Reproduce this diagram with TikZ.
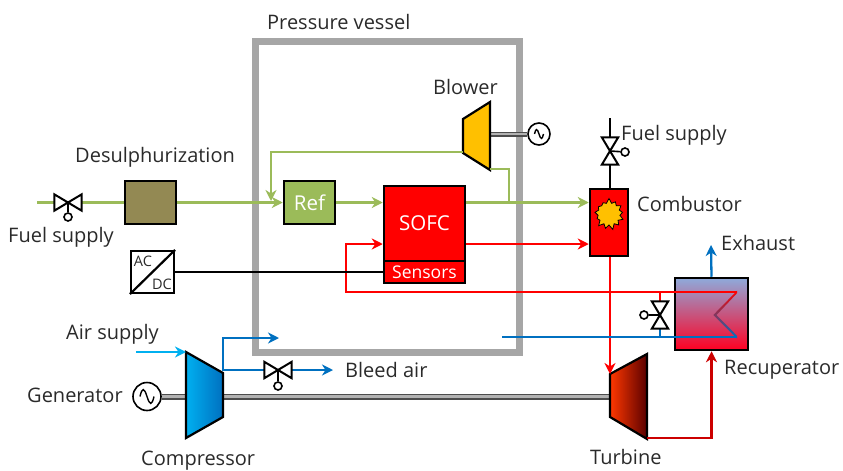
\documentclass[tikz,border=0pt]{standalone}
\usepackage{fontspec}
\setmainfont{Open Sans}
\usetikzlibrary{arrows.meta,shapes.symbols}
\definecolor{gasgreen}{HTML}{9BBB59}
\definecolor{airblue}{HTML}{0070C0}
\definecolor{skyblue}{HTML}{00B0F0}
\definecolor{desulph}{HTML}{938953}
\definecolor{blowergold}{HTML}{FFC000}
\definecolor{vesselgray}{HTML}{A6A6A6}
\definecolor{inkgray}{HTML}{2A2A2A}
\definecolor{recupblue}{HTML}{8EAADB}
\definecolor{recupmid}{HTML}{E57A9C}
\definecolor{recupred}{HTML}{FF0022}
\definecolor{turbhot}{HTML}{FF3800}
\definecolor{turbdark}{HTML}{5A0000}
\tikzset{
  lbl/.style={font=\fontsize{20}{23}\selectfont,text=inkgray,inner sep=0pt,anchor=base west},
  unit/.style={draw=black,line width=2.5pt,inner sep=0pt,text=white,font=\fontsize{20.5}{24}\selectfont},
  pipe/.style={line width=2.3pt},
  flow/.style={line width=2.3pt,-{Stealth[length=11pt,width=11pt,inset=3.5pt]}},
  valveh/.style={inner sep=0pt,minimum width=27pt,minimum height=16pt},
  valvev/.style={inner sep=0pt,minimum width=16pt,minimum height=27pt},
  knob/.style={circle,draw=black,line width=1.6pt,fill=white,inner sep=0pt,minimum size=8pt},
  ac/.style={circle,draw=black,line width=1.6pt,fill=white,inner sep=0pt},
  shaft/.style={draw=black!70,line width=1.3pt,double=black!30,double distance=#1},
  machine/.style={draw=black,line width=2.2pt,line join=miter},
}
\newcommand{\valveshapeh}[1]{\draw[line width=2pt,fill=white,line join=miter] (#1.north west) -- (#1.south east) -- (#1.north east) -- (#1.south west) -- cycle;}
\newcommand{\valveshapev}[1]{\draw[line width=2pt,fill=white,line join=miter] (#1.north west) -- (#1.south east) -- (#1.south west) -- (#1.north east) -- cycle;}
% wave inside a generator circle, #2 is half its width
\newcommand{\sinewave}[2]{\draw[line width=1.4pt] ([xshift=-#2]#1.center) .. controls +(0.3*#2,1.3*#2) and +(-0.4*#2,1.3*#2) .. (#1.center) .. controls +(0.4*#2,-1.3*#2) and +(-0.3*#2,-1.3*#2) .. ([xshift=#2]#1.center);}
\begin{document}
\begin{tikzpicture}[x=1pt,y=-1pt]
\useasboundingbox (0,0) rectangle (843,471);
  % pressure vessel
  \node[draw=vesselgray,line width=7pt,minimum width=264pt,minimum height=311.5pt,inner sep=0pt] (vessel) at (387.5,196.8) {};
  \node[lbl] (vesselLabel) at (267,29) {Pressure vessel};

  % units
  \node[unit,fill=desulph,minimum width=51pt,minimum height=43pt] (desulfur) at (150.5,202.5) {};
  \node[unit,fill=gasgreen,minimum width=51pt,minimum height=43pt] (ref) at (309.5,202.5) {Ref};
  \node[unit,fill=red,minimum width=81pt,minimum height=75pt] (sofc) at (424.5,223.5) {SOFC};
  \node[unit,fill=red,minimum width=81pt,minimum height=22pt,font=\fontsize{17.5}{20}\selectfont] (sensors) at (424.5,272) {Sensors};
  \node[unit,fill=red,minimum width=38pt,minimum height=67pt] (combustor) at (609,222.5) {};
  \node[starburst,draw=black,line width=0.8pt,fill=blowergold,starburst points=13,starburst point height=5pt,random starburst=7,inner sep=0pt,minimum width=32pt,minimum height=32pt] (flame) at (609,214) {};
  \node[draw=black,line width=2.2pt,minimum width=43pt,minimum height=42pt,inner sep=0pt] (acdc) at (152.5,272) {};
  \draw[line width=2.2pt] (acdc.south west) -- (acdc.north east);
  \node[font=\fontsize{14.5}{16}\selectfont,text=inkgray,inner sep=0pt] (acLabel) at (143,261) {AC};
  \node[font=\fontsize{14.5}{16}\selectfont,text=inkgray,inner sep=0pt] (dcLabel) at (162,284) {DC};
  \node[draw=black,line width=2.5pt,top color=recupblue,middle color=recupmid,bottom color=recupred,inner sep=0pt,minimum width=73pt,minimum height=72pt] (recup) at (711.5,314) {};

  % valves and generators
  \node[valveh] (valveFuel) at (68,202.5) {};
  \node[knob] (knobFuel) at (68,217) {};
  \node[valvev] (valveTop) at (610,151) {};
  \node[knob] (knobTop) at (625,152) {};
  \node[valvev] (valveRec) at (660,315) {};
  \node[knob] (knobRec) at (644,315) {};
  \node[valveh] (valveBleed) at (278,370) {};
  \node[knob] (knobBleed) at (278,386) {};
  \node[ac,minimum size=22pt] (genBlower) at (539,134) {};
  \node[ac,minimum size=28pt] (genMain) at (147,396.5) {};

  % machines
  \coordinate (blowerIn) at (463,152);
  \coordinate (blowerShaft) at (490,134);
  \coordinate (blowerOut) at (490,169);
  \coordinate (compIn) at (186,352);
  \coordinate (compShaftL) at (186,396.5);
  \coordinate (compShaftR) at (223,396.5);
  \coordinate (compOut) at (223,371);
  \coordinate (turbIn) at (610,374);
  \coordinate (turbShaft) at (610,396.5);
  \coordinate (turbOut) at (647,438);

  \draw[shaft=2.4pt] (blowerShaft) -- (genBlower.west);
  \draw[shaft=3.4pt] (genMain.east) -- (compShaftL);
  \draw[shaft=3.4pt] (compShaftR) -- (turbShaft);

  \filldraw[machine,fill=blowergold] (463,119) -- (490,102) -- (490,170) -- (463,153) -- cycle;
  \shade[left color=skyblue,right color=airblue] (186,352) -- (223,373) -- (223,417) -- (186,438) -- cycle;
  \draw[machine] (186,352) -- (223,373) -- (223,417) -- (186,438) -- cycle;
  \shade[left color=turbhot,right color=turbdark] (610,374) -- (647,354) -- (647,439) -- (610,417) -- cycle;
  \draw[machine] (610,374) -- (647,354) -- (647,439) -- (610,417) -- cycle;

  % fuel gas lines
  \coordinate (fuelIn) at (37,202.5);
  \draw[pipe,gasgreen] (fuelIn) -- (valveFuel.west);
  \draw[pipe,gasgreen] (valveFuel.east) -- (desulfur.west);
  \draw[flow,gasgreen] (desulfur.east) -- (ref.west);
  \draw[flow,gasgreen] (ref.east) -- (ref.east -| sofc.west);
  \draw[flow,gasgreen] (ref.east -| sofc.east) -- (ref.east -| combustor.west);
  \draw[flow,gasgreen] (blowerIn) -| (271,201);
  \draw[pipe,gasgreen] (blowerOut) -| (509,202.5);

  % hot lines
  \coordinate (hotLevel) at (0,244);
  \coordinate (hotTurn) at (346,292);
  \coordinate (zigTop) at (737,292);
  \coordinate (zigBot) at (737,337);
  \draw[flow,red] (sofc.east |- hotLevel) -- (combustor.west |- hotLevel);
  \draw[flow,red] (zigTop) -- (hotTurn) |- (sofc.west |- hotLevel);
  \draw[flow,red] (turbIn |- combustor.south) -- (turbIn);
  \draw[flow,red!80!black] (turbOut) -| (recup.south);
  \shade[top color=red,bottom color=airblue] (737,290.8) -- (713.3,315) -- (737,338.5) -- (737,335.8) -- (716.5,315) -- (737,293.2) -- cycle;

  % air lines
  \coordinate (airIn) at (136,352);
  \coordinate (blueEnd) at (502,337);
  \coordinate (bleedEnd) at (333,370);
  \coordinate (vesselAir) at (279,338);
  \coordinate (exhaustEnd) at (711,245);
  \draw[flow,skyblue] (airIn) -- (compIn);
  \draw[flow,airblue] (compOut) |- (vesselAir);
  \draw[pipe,airblue] (compOut |- valveBleed.west) -- (valveBleed.west);
  \draw[flow,airblue] (valveBleed.east) -- (bleedEnd);
  \draw[pipe,airblue] (zigBot) -- (blueEnd);
  \draw[flow,airblue] (recup.north) -- (exhaustEnd);
  \draw[pipe,red] (valveRec.north) -- (valveRec.north |- zigTop);
  \draw[pipe,airblue] (valveRec.south) -- (valveRec.south |- zigBot);

  % black lines
  \coordinate (topFuel) at (610,118);
  \draw[line width=2.2pt] (acdc.east) -- (sensors.west);
  \draw[line width=2.2pt] (topFuel) -- (valveTop.north);
  \draw[line width=2.2pt] (valveTop.south) -- (combustor.north -| valveTop.south);
  \valveshapeh{valveFuel}
  \valveshapeh{valveBleed}
  \valveshapev{valveTop}
  \valveshapev{valveRec}
  \draw[line width=1.6pt] (valveFuel.center) -- (knobFuel);
  \draw[line width=1.6pt] (valveTop.center) -- (knobTop);
  \draw[line width=1.6pt] (valveRec.center) -- (knobRec);
  \draw[line width=1.6pt] (valveBleed.center) -- (knobBleed);
  \sinewave{genBlower}{4.5pt}
  \sinewave{genMain}{7pt}

  % labels
  \node[lbl] (blowerLabel) at (433,94) {Blower};
  \node[lbl] (desulfurLabel) at (75,162) {Desulphurization};
  \node[lbl] (fuelLabel) at (8,242) {Fuel supply};
  \node[lbl] (topFuelLabel) at (621,140) {Fuel supply};
  \node[lbl] (combustorLabel) at (637,211) {Combustor};
  \node[lbl] (exhaustLabel) at (721,250) {Exhaust};
  \node[lbl] (recupLabel) at (724,374) {Recuperator};
  \node[lbl] (bleedLabel) at (345,377) {Bleed air};
  \node[lbl] (airLabel) at (66,339) {Air supply};
  \node[lbl] (genLabel) at (27,402) {Generator};
  \node[lbl] (compLabel) at (141,465) {Compressor};
  \node[lbl] (turbLabel) at (590,464) {Turbine};
\end{tikzpicture}
\end{document}
